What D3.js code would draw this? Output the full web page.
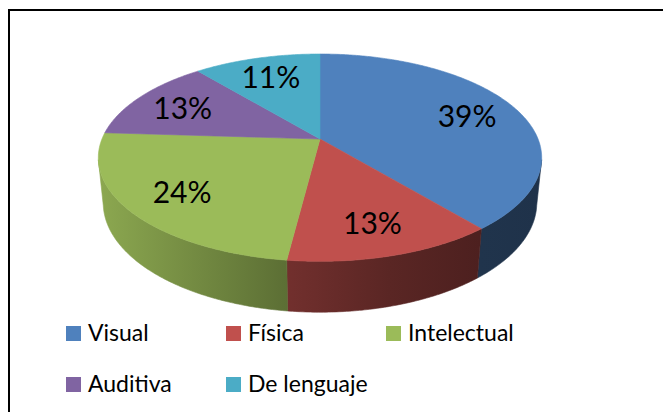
<!DOCTYPE html>
<html>
<head>
<meta charset="utf-8">
<script src="https://cdn.jsdelivr.net/npm/d3@7"></script>
<style>
    body { margin: 0; background: #fff; }
    text { font-family: Lato, "Open Sans", sans-serif; }
</style>
</head>
<body>
<svg id="chart" width="663" height="412"></svg>
<script>
//data
const categories = ["Visual", "Física", "Intelectual", "Auditiva", "De lenguaje"];
const values = [39, 13, 24, 13, 11];
const colors = ["#4f81bd", "#c0504d", "#9bbb59", "#8064a2", "#4bacc6"];

const svg = d3.select("#chart");
const defs = svg.append("defs");

//3d view: disk of radius 1, seen from above with perspective
const cx = 320, cy = 139;       //screen position of the pie centre
const focal = 1075;
const dist = 4.93;
const sinT = 0.46, cosT = Math.sqrt(1 - sinT * sinT);
const thick = 0.235;

function project(a, r, z) {
    const X = r * Math.sin(a), Y = -r * Math.cos(a);
    const yc = Y * sinT - z * cosT;
    const zc = dist - Y * cosT - z * sinT;
    return [cx + focal * X / zc, cy + focal * yc / zc];
}

function angles(a0, a1) {
    const n = Math.max(2, Math.ceil((a1 - a0) / 0.01));
    return d3.range(n + 1).map(i => a0 + (a1 - a0) * i / n);
}

const pie = d3.pie().sort(null).value(d => d);
const arcs = pie(values).map((d, i) => ({ ...d, name: categories[i], color: colors[i] }));

const line = d3.line();

//horizontal extent of the disk, used for the side shading
const rim = angles(0, 2 * Math.PI).map(a => project(a, 1, 0));
const xMin = d3.min(rim, p => p[0]), xMax = d3.max(rim, p => p[0]);

//shading of the side walls, darker to the right
const shade = d3.scaleLinear()
    .domain([0, 0.415, 0.657, 0.86, 1])
    .range([0.9, 0.6, 0.47, 0.40, 0.39]);

arcs.forEach((d, i) => {
    const g = defs.append("linearGradient")
        .attr("id", "side" + i)
        .attr("gradientUnits", "userSpaceOnUse")
        .attr("x1", xMin).attr("x2", xMax)
        .attr("y1", 0).attr("y2", 0);
    const base = d3.rgb(d.color);
    shade.domain().forEach(o => {
        const k = shade(o);
        g.append("stop")
            .attr("offset", o)
            .attr("stop-color", d3.rgb(base.r * k, base.g * k, base.b * k).formatHex());
    });
});

//walls, only the part that faces the viewer
const c0 = 1 / (dist * cosT);
const visStart = Math.acos(-c0) - 0.03, visEnd = 2 * Math.PI - Math.acos(-c0) + 0.03;

const walls = svg.append("g");
arcs.forEach((d, i) => {
    const a0 = Math.max(d.startAngle, visStart), a1 = Math.min(d.endAngle, visEnd);
    if (a1 <= a0) return;
    const as = angles(a0, a1);
    const pts = as.map(a => project(a, 1, 0))
        .concat(as.slice().reverse().map(a => project(a, 1, -thick)));
    walls.append("path")
        .attr("d", line(pts) + "Z")
        .attr("fill", `url(#side${i})`)
        .attr("stroke", `url(#side${i})`)
        .attr("stroke-width", 0.6);
});

//top faces
const tops = svg.append("g");
arcs.forEach(d => {
    const pts = [project(0, 0, 0)].concat(angles(d.startAngle, d.endAngle).map(a => project(a, 1, 0)));
    tops.append("path")
        .attr("d", line(pts) + "Z")
        .attr("fill", d.color)
        .attr("stroke", d.color)
        .attr("stroke-width", 0.6);
});

//percentage labels
const total = d3.sum(values);
const pct = d3.format(".0%");
svg.append("g").selectAll("text")
    .data(arcs)
    .enter()
    .append("text")
    .attr("x", d => project((d.startAngle + d.endAngle) / 2, 0.75, 0)[0])
    .attr("y", d => project((d.startAngle + d.endAngle) / 2, 0.75, 0)[1])
    .attr("text-anchor", "middle")
    .attr("dominant-baseline", "central")
    .style("font-size", "30px")
    .style("fill", "#000")
    .text(d => pct(d.value / total));

//legend
const legend = svg.append("g").attr("transform", "translate(66,326)");
const item = legend.selectAll("g")
    .data(arcs)
    .enter()
    .append("g")
    .attr("transform", (d, i) => `translate(${(i % 3) * 160},${Math.floor(i / 3) * 51})`);

item.append("rect")
    .attr("width", 15)
    .attr("height", 15)
    .attr("fill", d => d.color);

item.append("text")
    .attr("x", 22)
    .attr("y", 15)
    .style("font-size", "23px")
    .style("fill", "#000")
    .text(d => d.name);

//chart border
svg.append("rect")
    .attr("x", 9)
    .attr("y", 10)
    .attr("width", 700)
    .attr("height", 500)
    .attr("fill", "none")
    .attr("stroke", "#000")
    .attr("stroke-width", 2);
</script>
</body>
</html>
